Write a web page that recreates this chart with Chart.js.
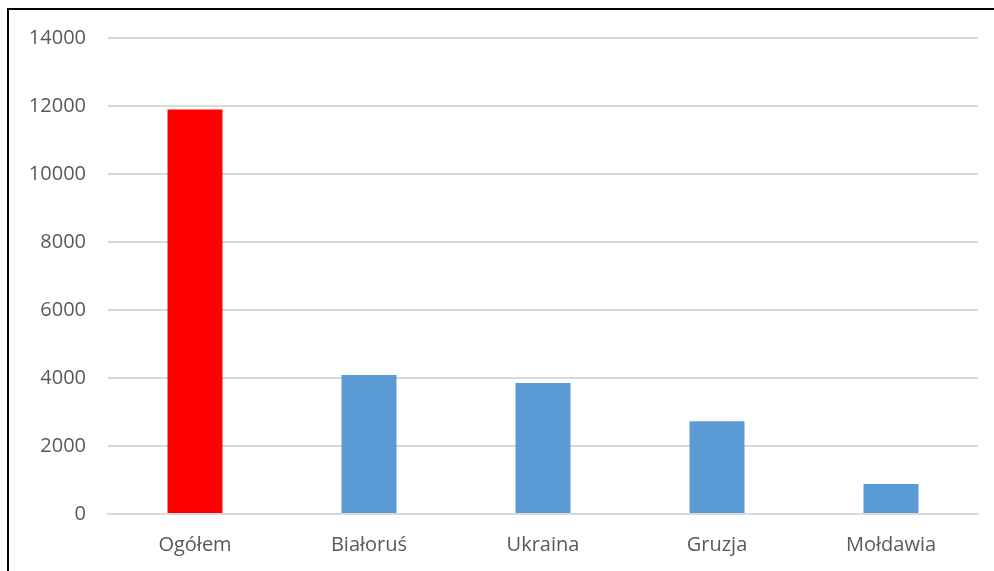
<!DOCTYPE html>
<html>
<head>
<meta charset="utf-8">
<script src="https://cdn.jsdelivr.net/npm/chart.js@4/dist/chart.umd.min.js"></script>
<style>
    html, body { margin: 0; padding: 0; background: #fff; }
    #wrap { position: relative; width: 994px; height: 571px; overflow: hidden; }
    #frame { position: absolute; left: 7px; top: 8px; right: -10px; bottom: -10px; border-left: 2px solid #000; border-top: 2px solid #000; }
    #chart { position: absolute; left: 0; top: 0; }
</style>
</head>
<body>
<div id="wrap">
    <div id="frame"></div>
    <canvas id="chart" width="994" height="571"></canvas>
</div>
<script>
// values
const categories = ["Ogółem", "Białoruś", "Ukraina", "Gruzja", "Mołdawia"];
const values = [11900, 4090, 3850, 2730, 880];
const barColors = ["#ff0000", "#5b9bd5", "#5b9bd5", "#5b9bd5", "#5b9bd5"];
const yTicks = [0, 2000, 4000, 6000, 8000, 10000, 12000, 14000];

const font = { family: "'Open Sans', 'Liberation Sans', sans-serif", size: 20 };

new Chart(document.getElementById("chart"), {
    type: "bar",
    data: {
        labels: categories,
        datasets: [{
            data: values,
            backgroundColor: barColors,
            borderWidth: 0,
            categoryPercentage: 1,
            barPercentage: 0.316
        }]
    },
    options: {
        responsive: false,
        animation: false,
        layout: { padding: { left: 0, top: 38, right: 16, bottom: 0 } },
        plugins: { legend: { display: false }, tooltip: { enabled: false } },
        scales: {
            x: {
                grid: { display: false, drawTicks: false },
                border: { display: true, color: "#d9d9d9", width: 2 },
                ticks: { color: "#595959", font: font, padding: 19 },
                afterFit: s => { s.height = 57; }
            },
            y: {
                min: 0,
                max: 14000,
                afterBuildTicks: s => { s.ticks = yTicks.map(v => ({ value: v })); },
                grid: { color: "#d9d9d9", lineWidth: 2, drawTicks: false },
                border: { display: false },
                ticks: { color: "#595959", font: font, padding: 22, callback: v => String(v) },
                afterFit: s => { s.width = 108; }
            }
        }
    }
});
</script>
</body>
</html>
